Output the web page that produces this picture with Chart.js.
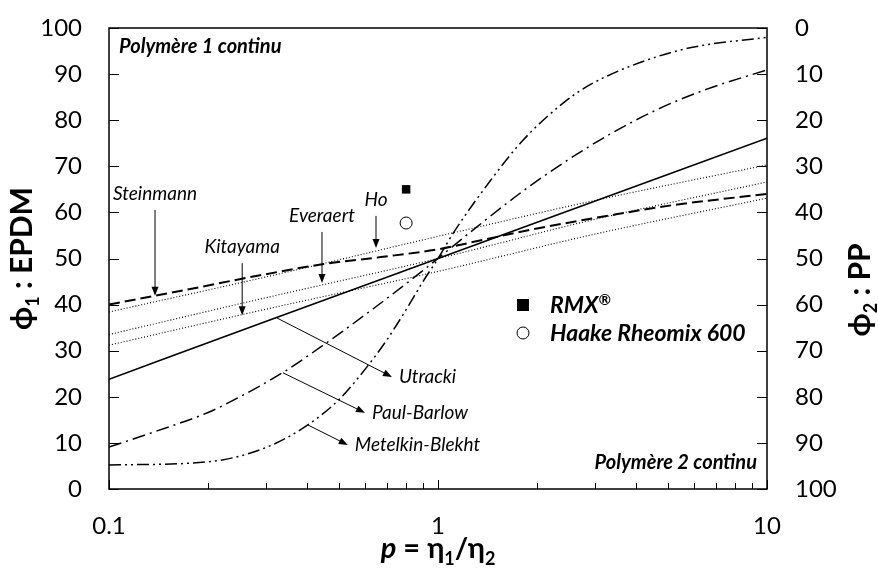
<!DOCTYPE html>
<html>
<head>
    <title>Inversion de phase - modèles</title>
    <script src="https://cdn.jsdelivr.net/npm/chart.js"></script>
    <style>
        body { margin: 0; background: #fff; }
        #wrap { width: 878px; height: 571px; position: relative; }
    </style>
</head>
<body>
    <div id="wrap"><canvas id="phaseChart"></canvas></div>

    <script>
        // Viscosity ratio values and phase fraction (phi1, %) for each model
        const pUtracki = [0.1, 0.32, 1, 10];
        const phiUtracki = [23.8, 37.1, 50, 76.1];

        const pSteinmann = [0.1, 0.18, 0.28, 0.45, 0.67, 1, 1.4, 2, 3.3, 5.2, 10];
        const phiSteinmann = [40, 43.5, 46.2, 48.8, 50.3, 52, 54.2, 56.5, 59.3, 61.6, 64];

        const pHo = [0.1, 0.3, 1, 3, 10];
        const phiHo = [38.4, 46, 54.8, 62.6, 70.3];

        const pEveraert = [0.1, 0.3, 1, 3, 10];
        const phiEveraert = [33.5, 41.5, 50, 58.5, 66.6];

        const pKitayama = [0.1, 0.3, 1, 3, 10];
        const phiKitayama = [31.2, 39, 47.2, 55.3, 63.1];

        const pPaulBarlow = [0.1, 0.14, 0.2, 0.25, 0.34, 0.45, 0.63, 0.9, 1.31, 1.81, 2.4, 3.3, 4.6, 6.6, 10];
        const phiPaulBarlow = [9.1, 12.6, 16.6, 20, 25.4, 31.3, 38.9, 47.4, 56.8, 64.6, 70.7, 76.8, 82.2, 86.8, 90.9];

        const pMetelkin = [0.1, 0.2, 0.3, 0.4, 0.5, 0.61, 0.7, 0.8, 0.9, 1, 1.11, 1.44, 1.81, 2.4, 2.9, 4.11, 5.83, 10];
        const phiMetelkin = [5.2, 5.9, 9.0, 13.8, 19.4, 26.6, 32.4, 38.9, 45, 50, 55.4, 66.8, 75.6, 83.7, 87.7, 92.5, 95.7, 98.0];

        // Measured points (two mixers)
        const pRMX = [0.8];
        const phiRMX = [65];
        const pHaake = [0.8];
        const phiHaake = [57.7];

        // Axis ticks
        const xMajorTicks = [0.1, 1, 10];
        const xMinorTicks = [0.2, 0.3, 0.4, 0.5, 0.6, 0.7, 0.8, 0.9, 2, 3, 4, 5, 6, 7, 8, 9];
        const yTicks = [0, 10, 20, 30, 40, 50, 60, 70, 80, 90, 100];

        const FONT = 'Lato, "Liberation Sans", "DejaVu Sans", sans-serif';
        Chart.defaults.font.family = FONT;
        Chart.defaults.color = '#000';

        const toXY = (xs, ys) => xs.map((x, i) => ({ x: x, y: ys[i] }));

        function curve(label, xs, ys, dash, width) {
            return {
                label: label,
                data: toXY(xs, ys),
                borderColor: '#000',
                borderWidth: width,
                borderDash: dash,
                pointRadius: 0,
                cubicInterpolationMode: 'monotone',
                fill: false
            };
        }

        // Labels with arrows pointing to a curve: tip in data units, tail/text offsets in px
        const arrowsDown = [
            { text: 'Steinmann', p: 0.138, v: 41.9, len: 86 },
            { text: 'Kitayama', p: 0.254, v: 37.7, len: 52 },
            { text: 'Everaert', p: 0.444, v: 44.7, len: 51 },
            { text: 'Ho', p: 0.648, v: 52.3, len: 32 }
        ];
        const arrowsSide = [
            { text: 'Utracki', p: 0.324, v: 37.1, dx: 115, dy: 59 },
            { text: 'Paul-Barlow', p: 0.338, v: 25.2, dx: 82, dy: 40 },
            { text: 'Metelkin-Blekht', p: 0.402, v: 13.9, dx: 40, dy: 20 }
        ];

        function arrow(ctx, x1, y1, x2, y2) {
            const a = Math.atan2(y2 - y1, x2 - x1);
            const hl = 9, hw = 3.5;
            ctx.beginPath();
            ctx.moveTo(x1, y1);
            ctx.lineTo(x2 - Math.cos(a) * hl * 0.8, y2 - Math.sin(a) * hl * 0.8);
            ctx.stroke();
            ctx.beginPath();
            ctx.moveTo(x2, y2);
            ctx.lineTo(x2 - Math.cos(a) * hl - Math.sin(a) * hw, y2 - Math.sin(a) * hl + Math.cos(a) * hw);
            ctx.lineTo(x2 - Math.cos(a) * hl + Math.sin(a) * hw, y2 - Math.sin(a) * hl - Math.cos(a) * hw);
            ctx.closePath();
            ctx.fill();
        }

        // Text made of runs (sub/superscripts); align 'center' or 'left' at x
        function richText(ctx, runs, x, y, align) {
            let total = 0;
            runs.forEach(r => { ctx.font = r.font; total += ctx.measureText(r.t).width; });
            let cx = align === 'left' ? x : x - total / 2;
            ctx.textAlign = 'left';
            ctx.textBaseline = 'alphabetic';
            runs.forEach(r => {
                ctx.font = r.font;
                ctx.fillText(r.t, cx, y + (r.dy || 0));
                cx += ctx.measureText(r.t).width;
            });
        }

        // drop the half-label padding so the plot box sits where the layout says
        function noPad(s) {
            s.paddingTop = 0;
            s.paddingBottom = 0;
        }

        const decorPlugin = {
            id: 'decor',
            afterDatasetsDraw(chart) {
                const { ctx, chartArea: a, scales } = chart;
                const xs = scales.x, ys = scales.y;
                ctx.save();
                ctx.strokeStyle = '#000';
                ctx.fillStyle = '#000';

                // frame
                ctx.lineWidth = 1.5;
                ctx.strokeRect(a.left, a.top, a.right - a.left, a.bottom - a.top);

                // inner ticks
                ctx.lineWidth = 1;
                ctx.beginPath();
                yTicks.forEach(v => {
                    const y = Math.round(ys.getPixelForValue(v)) + 0.5;
                    ctx.moveTo(a.left, y); ctx.lineTo(a.left + 10, y);
                    ctx.moveTo(a.right, y); ctx.lineTo(a.right - 10, y);
                });
                xMajorTicks.forEach(v => {
                    const x = Math.round(xs.getPixelForValue(v)) + 0.5;
                    ctx.moveTo(x, a.bottom); ctx.lineTo(x, a.bottom - 9);
                });
                xMinorTicks.forEach(v => {
                    const x = Math.round(xs.getPixelForValue(v)) + 0.5;
                    ctx.moveTo(x, a.bottom); ctx.lineTo(x, a.bottom - 6);
                });
                ctx.stroke();

                // model labels
                ctx.font = 'italic 19px ' + FONT;
                ctx.textBaseline = 'middle';
                arrowsDown.forEach(d => {
                    const x = xs.getPixelForValue(d.p), y = ys.getPixelForValue(d.v);
                    arrow(ctx, x, y - d.len, x, y);
                    ctx.textAlign = 'center';
                    ctx.fillText(d.text, x, y - d.len - 16);
                });
                arrowsSide.forEach(d => {
                    const x = xs.getPixelForValue(d.p), y = ys.getPixelForValue(d.v);
                    arrow(ctx, x, y, x + d.dx, y + d.dy);
                    ctx.textAlign = 'left';
                    ctx.fillText(d.text, x + d.dx + 7, y + d.dy);
                });

                // region captions
                ctx.font = 'bold italic 20px ' + FONT;
                ctx.textAlign = 'left';
                ctx.fillText('Polymère 1 continu', a.left + 10, a.top + 19);
                ctx.textAlign = 'right';
                ctx.fillText('Polymère 2 continu', a.right - 10, a.bottom - 26);

                // legend for the measured points
                const lx = a.left + 414, ly = a.top + 277;
                ctx.fillRect(lx - 6, ly - 6, 12, 12);
                ctx.lineWidth = 1;
                ctx.beginPath();
                ctx.arc(lx, ly + 28, 6, 0, Math.PI * 2);
                ctx.stroke();
                const legFont = 'bold italic 23px ' + FONT;
                richText(ctx, [
                    { t: 'RMX', font: legFont },
                    { t: '®', font: 'bold italic 15px ' + FONT, dy: -8 }
                ], lx + 27, ly + 8, 'left');
                richText(ctx, [{ t: 'Haake Rheomix 600', font: legFont }], lx + 27, ly + 36, 'left');
                ctx.restore();
            },
            afterDraw(chart) {
                const { ctx, chartArea: a } = chart;
                ctx.save();
                ctx.fillStyle = '#000';
                const big = 'bold 30px ' + FONT;
                const sub = 'bold 18px ' + FONT;

                // left axis title
                ctx.save();
                ctx.translate(22, (a.top + a.bottom) / 2);
                ctx.rotate(-Math.PI / 2);
                richText(ctx, [
                    { t: 'ϕ', font: big },
                    { t: '1', font: sub, dy: 7 },
                    { t: ' : EPDM', font: big }
                ], 0, 10);
                ctx.restore();

                // right axis title
                ctx.save();
                ctx.translate(860, a.top + 262);
                ctx.rotate(-Math.PI / 2);
                richText(ctx, [
                    { t: 'ϕ', font: big },
                    { t: '2', font: sub, dy: 7 },
                    { t: ' : PP', font: big }
                ], 0, 10);
                ctx.restore();

                // x axis title
                richText(ctx, [
                    { t: 'p', font: 'bold italic 29px ' + FONT },
                    { t: ' = η', font: 'bold 29px ' + FONT },
                    { t: '1', font: sub, dy: 7 },
                    { t: '/η', font: 'bold 29px ' + FONT },
                    { t: '2', font: sub, dy: 7 }
                ], (a.left + a.right) / 2, 558);
                ctx.restore();
            }
        };

        new Chart(document.getElementById('phaseChart'), {
            type: 'line',
            data: {
                datasets: [
                    curve('Metelkin-Blekht', pMetelkin, phiMetelkin, [12, 4, 2, 4, 2, 4], 1.5),
                    curve('Paul-Barlow', pPaulBarlow, phiPaulBarlow, [13, 5, 2, 5], 1.5),
                    curve('Utracki', pUtracki, phiUtracki, [], 1.6),
                    curve('Ho', pHo, phiHo, [1, 2], 1.1),
                    curve('Everaert', pEveraert, phiEveraert, [1, 2], 1.1),
                    curve('Kitayama', pKitayama, phiKitayama, [1, 2], 1.1),
                    curve('Steinmann', pSteinmann, phiSteinmann, [11, 5], 2),
                    {
                        label: 'RMX®',
                        data: toXY(pRMX, phiRMX),
                        showLine: false,
                        pointStyle: 'rect',
                        pointRadius: 6,
                        backgroundColor: '#000',
                        borderColor: '#000',
                        borderWidth: 0
                    },
                    {
                        label: 'Haake Rheomix 600',
                        data: toXY(pHaake, phiHaake),
                        showLine: false,
                        pointStyle: 'circle',
                        pointRadius: 6,
                        backgroundColor: '#fff',
                        borderColor: '#000',
                        borderWidth: 1
                    }
                ]
            },
            options: {
                responsive: true,
                maintainAspectRatio: false,
                animation: false,
                layout: { padding: { top: 28, bottom: 0, left: 0, right: 0 } },
                plugins: {
                    legend: { display: false },
                    tooltip: { enabled: false }
                },
                scales: {
                    x: {
                        type: 'logarithmic',
                        min: 0.1,
                        max: 10,
                        afterBuildTicks: s => { s.ticks = xMajorTicks.map(v => ({ value: v })); },
                        afterFit: s => { s.height = 82; },
                        grid: { display: false, drawTicks: false },
                        border: { display: false },
                        ticks: {
                            autoSkip: false,
                            maxRotation: 0,
                            padding: 23,
                            font: { size: 24 },
                            callback: v => String(v)
                        }
                    },
                    y: {
                        position: 'left',
                        min: 0,
                        max: 100,
                        afterFit: s => { s.width = 109; noPad(s); },
                        grid: { display: false, drawTicks: false },
                        border: { display: false },
                        ticks: { stepSize: 10, padding: 27, font: { size: 24 } }
                    },
                    y2: {
                        position: 'right',
                        min: 0,
                        max: 100,
                        reverse: true,
                        afterFit: s => { s.width = 111; noPad(s); },
                        grid: { display: false, drawTicks: false },
                        border: { display: false },
                        ticks: { stepSize: 10, padding: 28, font: { size: 24 } }
                    }
                }
            },
            plugins: [decorPlugin]
        });
    </script>
</body>
</html>
